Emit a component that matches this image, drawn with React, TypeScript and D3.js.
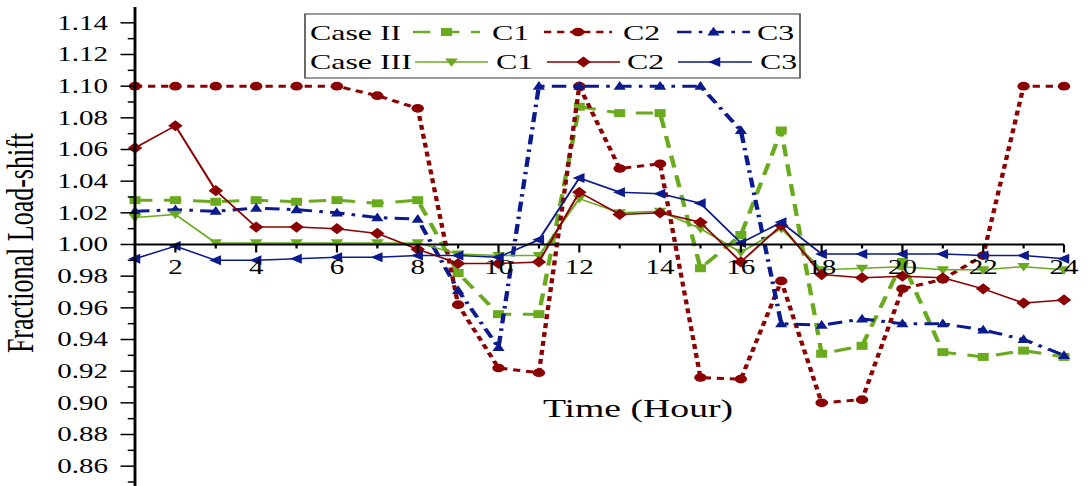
import React, { useRef, useEffect } from 'react';
import * as d3 from 'd3';

// hours on the x axis
const hours = [1, 2, 3, 4, 5, 6, 7, 8, 9, 10, 11, 12, 13, 14, 15, 16, 17, 18, 19, 20, 21, 22, 23, 24];
const xTickLabels = [2, 4, 6, 8, 10, 12, 14, 16, 18, 20, 22, 24];
const yTickLabels = [0.86, 0.88, 0.9, 0.92, 0.94, 0.96, 0.98, 1.0, 1.02, 1.04, 1.06, 1.08, 1.1, 1.12, 1.14];

// Case II (dashed)
const caseIIC1 = [1.028, 1.028, 1.027, 1.028, 1.027, 1.028, 1.026, 1.028, 0.982, 0.956, 0.956, 1.087, 1.083, 1.083, 0.985, 1.006, 1.072, 0.931, 0.936, 0.989, 0.932, 0.929, 0.933, 0.929];
const caseIIC2 = [1.1, 1.1, 1.1, 1.1, 1.1, 1.1, 1.094, 1.086, 0.962, 0.922, 0.919, 1.1, 1.048, 1.051, 0.916, 0.915, 0.977, 0.9, 0.902, 0.972, 0.978, 0.993, 1.1, 1.1];
const caseIIC3 = [1.021, 1.022, 1.021, 1.023, 1.022, 1.02, 1.017, 1.016, 0.971, 0.935, 1.1, 1.1, 1.1, 1.1, 1.1, 1.072, 0.95, 0.949, 0.953, 0.95, 0.95, 0.946, 0.94, 0.93];

// Case III (solid)
const caseIIIC1 = [1.017, 1.019, 1.001, 1.001, 1.001, 1.001, 1.001, 1.001, 0.994, 0.993, 0.993, 1.029, 1.02, 1.021, 1.01, 0.995, 1.01, 0.984, 0.985, 0.986, 0.984, 0.984, 0.986, 0.984];
const caseIIIC2 = [1.061, 1.075, 1.034, 1.011, 1.011, 1.01, 1.007, 0.997, 0.988, 0.988, 0.989, 1.033, 1.019, 1.02, 1.014, 0.989, 1.012, 0.981, 0.979, 0.98, 0.979, 0.972, 0.963, 0.965];
const caseIIIC3 = [0.991, 0.999, 0.99, 0.99, 0.991, 0.992, 0.992, 0.993, 0.993, 0.992, 1.003, 1.042, 1.033, 1.032, 1.026, 1.001, 1.014, 0.994, 0.994, 0.994, 0.994, 0.993, 0.993, 0.991];

const GREEN = '#6aaa1e';
const RED = '#8b0000';
const NAVY = '#0b1a8c';
const FONT = '"Liberation Serif", "Times New Roman", serif';

// the original picture is stretched horizontally; draw in a narrower space and scale
const S = 1.45;

function markerPath(kind: string) {
  switch (kind) {
    case 'square': return 'M-3.8,-4H3.8V4H-3.8Z';
    case 'circle': return 'M-4.3,0A4.3,4.3 0 1,0 4.3,0A4.3,4.3 0 1,0 -4.3,0Z';
    case 'triUp': return 'M0,-5.2L4.2,3.6L-4.2,3.6Z';
    case 'triDown': return 'M0,4.8L4.4,-3.6L-4.4,-3.6Z';
    case 'diamond': return 'M0,-5.6L5,0L0,5.6L-5,0Z';
    case 'triLeft': return 'M-4.6,0L3.6,-5L3.6,5Z';
    default: return '';
  }
}

function App() {
  const svgRef = useRef(null);

  useEffect(() => {
    const svg = d3.select(svgRef.current);
    svg.selectAll('*').remove();

    const g = svg.append('g').attr('transform', `scale(${S},1)`);

    const x = d3.scaleLinear().domain([1, 24]).range([135 / S, 1064 / S]);
    const y = d3.scaleLinear().domain([0.85, 1.15]).range([482, 7]);

    const series = [
      { values: caseIIC1, color: GREEN, dash: '12,8', width: 3, marker: 'square' },
      { values: caseIIC2, color: RED, dash: '5,4', width: 3, marker: 'circle' },
      { values: caseIIC3, color: NAVY, dash: '10,5,2.5,5', width: 3, marker: 'triUp' },
      { values: caseIIIC1, color: GREEN, dash: null, width: 1.5, marker: 'triDown' },
      { values: caseIIIC2, color: RED, dash: null, width: 1.5, marker: 'diamond' },
      { values: caseIIIC3, color: NAVY, dash: null, width: 1.5, marker: 'triLeft' },
    ];

    // Lines + markers
    series.forEach(s => {
      const line = d3.line<number>()
        .x((_, i) => x(hours[i]))
        .y(d => y(d));

      g.append('path')
        .datum(s.values)
        .attr('d', line)
        .attr('fill', 'none')
        .attr('stroke', s.color)
        .attr('stroke-width', s.width)
        .attr('stroke-dasharray', s.dash)
        .attr('stroke-linejoin', 'round');

      g.selectAll(null)
        .data(s.values)
        .enter()
        .append('path')
        .attr('d', markerPath(s.marker))
        .attr('transform', (d, i) => `translate(${x(hours[i])},${y(d)})`)
        .attr('fill', s.color);
    });

    // X axis along 1.00
    const y0 = y(1.0);
    g.append('line')
      .attr('x1', x(1)).attr('x2', x(24))
      .attr('y1', y0).attr('y2', y0)
      .attr('stroke', '#000').attr('stroke-width', 1.8);

    hours.slice(1).forEach(h => {
      g.append('line')
        .attr('x1', x(h)).attr('x2', x(h))
        .attr('y1', y0).attr('y2', y0 + (h % 2 === 0 ? 8 : 4))
        .attr('stroke', '#000').attr('stroke-width', 1.5);
    });

    g.selectAll(null)
      .data(xTickLabels)
      .enter()
      .append('text')
      .attr('x', d => x(d))
      .attr('y', 274)
      .attr('text-anchor', 'middle')
      .attr('font-family', FONT)
      .attr('font-size', 20)
      .attr('fill', '#000')
      .text(d => d);

    // Y axis
    const yAxisX = x(1);
    g.append('line')
      .attr('x1', yAxisX).attr('x2', yAxisX)
      .attr('y1', 7).attr('y2', 486)
      .attr('stroke', '#000').attr('stroke-width', 2);

    const minor = [0.85, 0.87, 0.89, 0.91, 0.93, 0.95, 0.97, 0.99, 1.01, 1.03, 1.05, 1.07, 1.09, 1.11, 1.13];
    minor.forEach(v => {
      g.append('line')
        .attr('x1', yAxisX - 5).attr('x2', yAxisX)
        .attr('y1', y(v)).attr('y2', y(v))
        .attr('stroke', '#000').attr('stroke-width', 1.5);
    });
    yTickLabels.forEach(v => {
      g.append('line')
        .attr('x1', yAxisX - 10).attr('x2', yAxisX)
        .attr('y1', y(v)).attr('y2', y(v))
        .attr('stroke', '#000').attr('stroke-width', 1.5);
    });

    g.selectAll(null)
      .data(yTickLabels)
      .enter()
      .append('text')
      .attr('x', 108 / S)
      .attr('y', d => y(d))
      .attr('dy', '0.35em')
      .attr('text-anchor', 'end')
      .attr('font-family', FONT)
      .attr('font-size', 20)
      .attr('fill', '#000')
      .text(d => d.toFixed(2));

    // Axis titles
    g.append('text')
      .attr('transform', `translate(${33 / S},243) rotate(-90)`)
      .attr('text-anchor', 'middle')
      .attr('font-family', FONT)
      .attr('font-size', 26)
      .attr('fill', '#000')
      .text('Fractional Load-shift');

    g.append('text')
      .attr('x', 638 / S)
      .attr('y', 417)
      .attr('text-anchor', 'middle')
      .attr('font-family', FONT)
      .attr('font-size', 26)
      .attr('fill', '#000')
      .text('Time (Hour)');

    // Legend
    const legend = g.append('g');
    legend.append('rect')
      .attr('x', 305 / S).attr('y', 14)
      .attr('width', (800 - 305) / S).attr('height', 64)
      .attr('fill', '#fff')
      .attr('stroke', '#555')
      .attr('stroke-width', 1.2);

    const rows = [
      { title: 'Case II', ty: 40, ly: 32, items: [
        { s: series[0], x1: 413, x2: 480, tx: 492 },
        { s: series[1], x1: 544, x2: 612, tx: 623 },
        { s: series[2], x1: 677, x2: 750, tx: 757 },
      ] },
      { title: 'Case III', ty: 69, ly: 62, items: [
        { s: series[3], x1: 415, x2: 488, tx: 496 },
        { s: series[4], x1: 547, x2: 620, tx: 627 },
        { s: series[5], x1: 678, x2: 752, tx: 760 },
      ] },
    ];
    const labels = ['C1', 'C2', 'C3'];

    rows.forEach(row => {
      legend.append('text')
        .attr('x', 310 / S).attr('y', row.ty)
        .attr('font-family', FONT).attr('font-size', 22).attr('fill', '#000')
        .text(row.title);
      row.items.forEach((it, i) => {
        legend.append('line')
          .attr('x1', it.x1 / S).attr('x2', it.x2 / S)
          .attr('y1', row.ly).attr('y2', row.ly)
          .attr('stroke', it.s.color)
          .attr('stroke-width', it.s.width === 3 ? 2.5 : 1.5)
          .attr('stroke-dasharray', it.s.dash);
        legend.append('path')
          .attr('d', markerPath(it.s.marker))
          .attr('transform', `translate(${(it.x1 + it.x2) / 2 / S},${row.ly})`)
          .attr('fill', it.s.color);
        legend.append('text')
          .attr('x', it.tx / S).attr('y', row.ty)
          .attr('font-family', FONT).attr('font-size', 22).attr('fill', '#000')
          .text(labels[i]);
      });
    });
  }, []);

  return (
    <svg
      ref={svgRef}
      width={1088}
      height={486}
      style={{ position: 'absolute', left: 0, top: 0, background: '#fff' }}
    />
  );
}

export default App;
